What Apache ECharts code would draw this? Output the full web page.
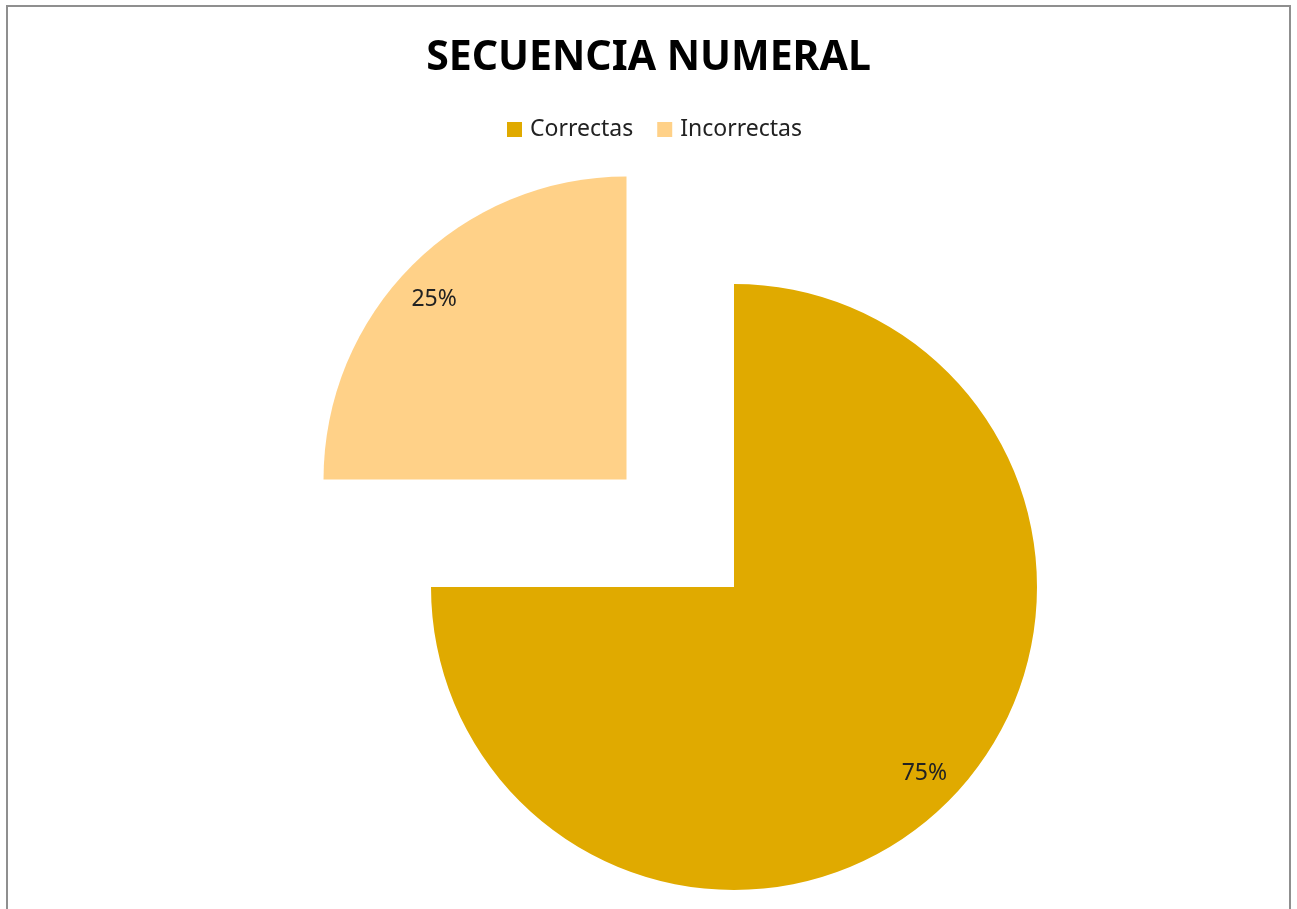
<!DOCTYPE html>
<html>
<head>
<meta charset="utf-8">
<script src="https://cdn.jsdelivr.net/npm/echarts@6/dist/echarts.min.js"></script>
<style>
html,body{margin:0;padding:0;background:#fff;}
#frame{position:absolute;left:6px;top:5px;width:1285px;height:920px;border:2px solid #8f8f8f;border-bottom:none;box-sizing:border-box;}
#chart{position:absolute;left:0;top:0;width:1297px;height:909px;}
</style>
</head>
<body>
<div id="frame"></div>
<div id="chart"></div>
<script>
const titleText = "SECUENCIA NUMERAL";
const categories = ["Correctas", "Incorrectas"];
const values = [75, 25];
const colors = ["#E0AA00", "#FFD188"];
const explodedIndex = 1;

const chart = echarts.init(document.getElementById('chart'), null, {renderer: 'canvas'});
const fontFam = '"Noto Sans", "Open Sans", sans-serif';

function buildData(transparent) {
  return categories.map((c, i) => ({
    name: c,
    value: values[i],
    selected: i === explodedIndex,
    itemStyle: { color: transparent ? 'rgba(0,0,0,0)' : colors[i] }
  }));
}

const center = [734, 587];
const labelNudge = [[3, -1], [-5, 7]];

chart.setOption({
  animation: false,
  backgroundColor: 'transparent',
  title: {
    text: titleText,
    left: 'center',
    top: 33,
    textStyle: { fontFamily: fontFam, fontWeight: 'bold', fontSize: 41, color: '#000' }
  },
  legend: {
    top: 113,
    left: 502,
    itemWidth: 15,
    itemHeight: 15,
    itemGap: 24,
    icon: 'rect',
    selectedMode: false,
    textStyle: { fontFamily: fontFam, fontSize: 23, color: '#222', padding: [0, 0, 0, 3] },
    data: categories.map((c, i) => ({ name: c, itemStyle: { color: colors[i] } }))
  },
  series: [
    {
      type: 'pie',
      center: center,
      radius: [0, 303],
      startAngle: 90,
      clockwise: true,
      selectedMode: 'single',
      selectedOffset: 152,
      avoidLabelOverlap: false,
      label: { show: false },
      labelLine: { show: false },
      itemStyle: { borderWidth: 0 },
      emphasis: { disabled: true },
      data: buildData(false)
    },
    {
      type: 'pie',
      center: center,
      radius: [222, 302],
      startAngle: 90,
      clockwise: true,
      selectedMode: 'single',
      selectedOffset: 152,
      silent: true,
      avoidLabelOverlap: false,
      legendHoverLink: false,
      label: {
        show: true,
        position: 'inside',
        formatter: '{d}%',
        fontFamily: fontFam,
        fontSize: 23,
        color: '#222'
      },
      labelLayout: function (p) {
        const n = labelNudge[p.dataIndex] || [0, 0];
        return { dx: n[0], dy: n[1] };
      },
      labelLine: { show: false },
      itemStyle: { borderWidth: 0 },
      emphasis: { disabled: true },
      data: buildData(true)
    }
  ]
});
</script>
</body>
</html>
